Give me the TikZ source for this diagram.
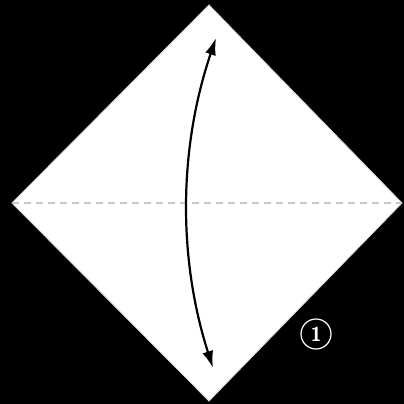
\documentclass[tikz,border=0pt]{standalone}
\usetikzlibrary{arrows.meta}
\tikzset{
  paper/.style={fill=white,draw=white!85!black,line width=0.8pt},
  foldline/.style={draw=black!22,line width=1.2pt,dash pattern=on 7pt off 5pt},
  movearrow/.style={draw=black,line width=2.2pt,{Latex[length=17pt,width=11pt]}-{Latex[length=17pt,width=11pt]}},
  stepnum/.style={circle,draw=white,line width=1.2pt,minimum size=30pt,inner sep=0pt,text=white,font=\sffamily\bfseries\fontsize{20}{20}\selectfont}
}
\begin{document}
\begin{tikzpicture}[x=1pt,y=-1pt]
\fill[black] (0,0) rectangle (404,404);
\useasboundingbox (0,0) rectangle (404,404);
\coordinate (T) at (209,5);
\coordinate (L) at (12,203);
\coordinate (R) at (402,203);
\coordinate (B) at (209,401);
\path[paper] (T) -- (R) -- (B) -- (L) -- cycle;
\draw[foldline] (L) -- (R);
\coordinate (a1) at (216,38);
\coordinate (a2) at (213,368);
\coordinate (c1) at (178.7,147.7);
\coordinate (c2) at (177.7,257.7);
\draw[movearrow] (a1) .. controls (c1) and (c2) .. (a2);
\node[stepnum] (n1) at (316,334) {1};
\end{tikzpicture}
\end{document}
